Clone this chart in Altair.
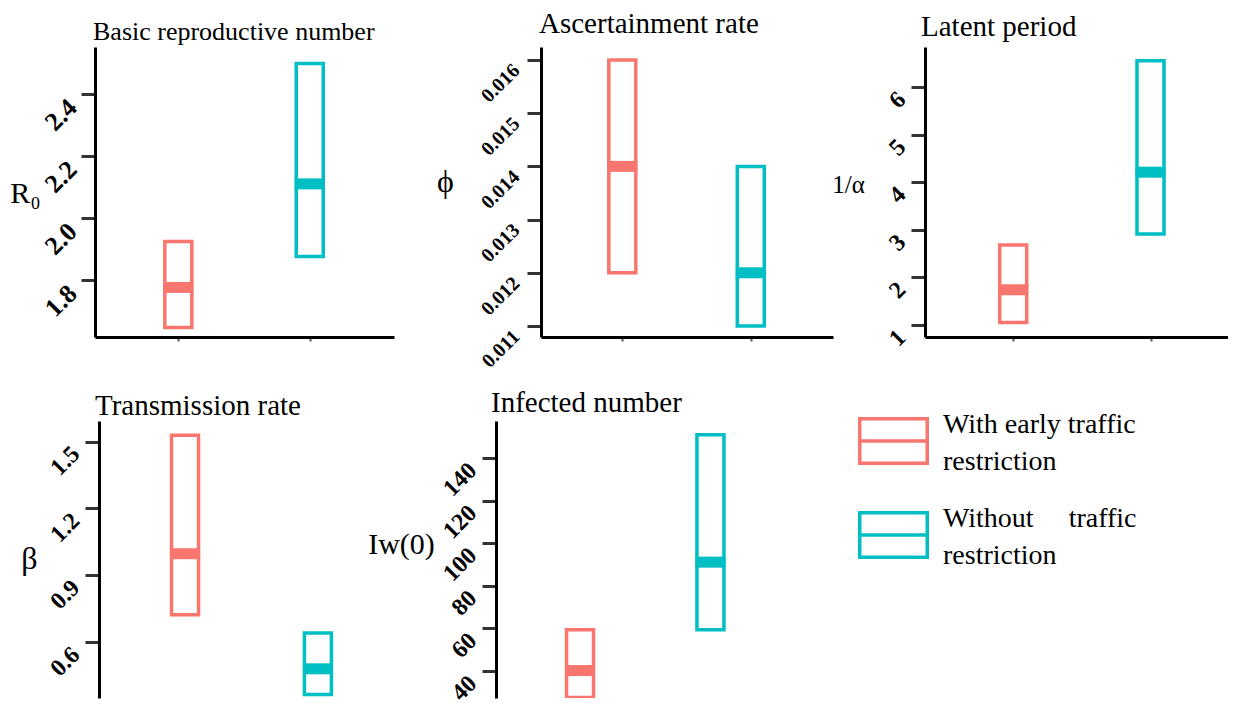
import altair as alt
import pandas as pd

SERIF = "Liberation Serif"

groups = ["With early traffic restriction", "Without traffic restriction"]
group_pos = [1, 2]
colors = ["#F8766D", "#00BFC4"]
legend_lines = ["With early traffic\nrestriction", "Without\u00a0\u00a0\u00a0\u00a0 traffic\nrestriction"]

# basic reproductive number
r0_low = [1.647, 1.876]
r0_mid = [1.776, 2.110]
r0_high = [1.924, 2.498]
# ascertainment rate
phi_low = [0.012, 0.011]
phi_mid = [0.014, 0.012]
phi_high = [0.016, 0.014]
# latent period
lat_low = [1.05, 2.91]
lat_mid = [1.74, 4.21]
lat_high = [2.68, 6.55]
# transmission rate
beta_low = [0.723, 0.366]
beta_mid = [0.997, 0.481]
beta_high = [1.528, 0.642]
# infected number
inf_low = [27.6, 59.4]
inf_mid = [40.2, 91.1]
inf_high = [59.4, 150.9]

r0_ticks = [1.8, 2.0, 2.2, 2.4]
phi_ticks = [0.011, 0.012, 0.013, 0.014, 0.015, 0.016]
lat_ticks = [1, 2, 3, 4, 5, 6]
beta_ticks = [0.6, 0.9, 1.2, 1.5]
inf_ticks = [40, 60, 80, 100, 120, 140]

color_scale = alt.Scale(domain=groups, range=colors)


def panel(title, tsize, tx, ty, ytitle, ysize, ytx, yty, low, mid, high,
          ydomain, yticks, yfmt, lsize, xdomain, width, height,
          xrange=None, show_x=True, yoffset=0, clip=False):
    df = pd.DataFrame({"group": groups, "pos": group_pos,
                       "low": low, "mid": mid, "high": high})
    if xrange is not None:
        xscale = alt.Scale(domain=xdomain, range=xrange, nice=False, zero=False)
    else:
        xscale = alt.Scale(domain=xdomain, nice=False, zero=False)
    if show_x:
        xaxis = alt.Axis(title=None, labels=False, values=[1, 2], tickSize=4,
                         tickWidth=2, tickColor="#555555", domainColor="black",
                         domainWidth=3, grid=False)
    else:
        xaxis = None
    yaxis = alt.Axis(
        title=ytitle, titleAngle=0, titleX=ytx, titleY=yty, titleAlign="center",
        titleBaseline="alphabetic", titleFont=SERIF, titleFontSize=ysize,
        titleFontWeight="normal", titleColor="black",
        values=yticks, format=yfmt, labelAngle=315, labelAlign="right",
        labelBaseline="top", labelFont=SERIF, labelFontWeight="bold",
        labelFontSize=lsize, labelColor="black", labelPadding=18,
        labelOverlap=False, tickSize=14, tickWidth=3, tickColor="#333333",
        domainColor="black", domainWidth=3, grid=False, offset=yoffset)
    box = alt.Chart(df).mark_bar(size=27, filled=True, fill="white",
                                 strokeWidth=3.5, clip=clip).encode(
        x=alt.X("pos:Q", scale=xscale, axis=xaxis),
        y=alt.Y("low:Q", scale=alt.Scale(domain=ydomain, nice=False, zero=False),
                axis=yaxis),
        y2="high:Q",
        stroke=alt.Color("group:N", scale=color_scale, legend=None),
    )
    med = alt.Chart(df).mark_tick(thickness=11, size=30, orient="horizontal",
                                  opacity=1, clip=clip).encode(
        x="pos:Q",
        y="mid:Q",
        color=alt.Color("group:N", scale=color_scale, legend=None),
    )
    ttl = alt.Chart(pd.DataFrame({"t": [title]})).mark_text(
        align="left", baseline="alphabetic", font=SERIF, fontSize=tsize,
        color="black").encode(text="t:N", x=alt.value(tx), y=alt.value(ty))
    return alt.layer(box, med, ttl).properties(width=width, height=height)


p1 = panel("Basic reproductive number", 26, -2, -7, "R\u2080", 30, -70, 155,
           r0_low, r0_mid, r0_high, [1.6161, 2.5516], r0_ticks, ".1f", 26,
           [0.404, 2.603], 436, 290, xrange=[0, 299])
p2 = panel("Ascertainment rate", 29, -2, -14, "\u03d5", 32, -96, 144,
           phi_low, phi_mid, phi_high, [0.010793, 0.016244], phi_ticks, ".3f", 20,
           [0.406, 2.601], 374, 290, xrange=[0, 292])
p3 = panel("Latent period", 29, -4, -11, "1/\u03b1", 25, -77, 145,
           lat_low, lat_mid, lat_high, [0.748, 6.84], lat_ticks, "d", 24,
           [0.394, 2.528], 303, 290)
# bottom row: cell top at page y 421, bottom at 698
p4 = panel("Transmission rate", 29, 0, -6, "\u03b2", 32, -70, 147,
           beta_low, beta_mid, beta_high, [0.3502, 1.592], beta_ticks, ".1f", 24,
           [0.360, 3.566], 436, 277, show_x=False, yoffset=-4, clip=True)
p5 = panel("Infected number", 29, -50, -9, "I\u1d21(0)", 30, -95, 132,
           inf_low, inf_mid, inf_high, [27.32, 157.37], inf_ticks, "d", 24,
           [0.739, 3.530], 374, 277, show_x=False, yoffset=45, clip=True)

leg_df = pd.DataFrame({"group": groups, "label": legend_lines})
leg_y = alt.Y("group:N", scale=alt.Scale(domain=groups, range=[20, 114], padding=0),
              axis=None)
leg_sym = alt.Chart(leg_df).mark_point(
    shape="M-1,-0.659L1,-0.659L1,0.659L-1,0.659Z M-1,0L1,0",
    size=4556, filled=False, strokeWidth=3.5, opacity=1).encode(
    x=alt.value(-31.5), y=leg_y,
    stroke=alt.Color("group:N", scale=color_scale, legend=None),
)
leg_txt = alt.Chart(leg_df).mark_text(
    align="left", baseline="alphabetic", dy=-8, lineBreak="\n", lineHeight=37,
    font=SERIF, fontSize=28, color="black").encode(
    x=alt.value(18), y=leg_y, text="label:N")
leg = alt.layer(leg_sym, leg_txt).properties(width=303, height=277)

chart = alt.concat(p1, p2, p3, p4, p5, leg, columns=3).properties(
    align="each", bounds="flush", spacing={"row": 84, "column": 10},
    padding={"left": 1, "top": 2, "right": 0, "bottom": 0},
).configure(font=SERIF).configure_view(stroke=None)

chart.save("out.html", embed_options={"renderer": "svg", "actions": False})
